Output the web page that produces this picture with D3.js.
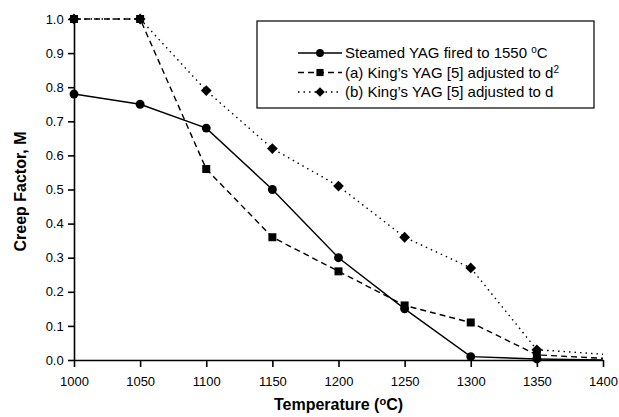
<!DOCTYPE html>
<html>
<head>
<meta charset="utf-8">
<title>Creep Factor</title>
<script src="https://d3js.org/d3.v7.min.js"></script>
<style>
  body { margin: 0; background: #fff; }
  text { font-family: "Liberation Sans", Arial, sans-serif; fill: #000; }
</style>
</head>
<body>
<script>
// data
var temps = [1000, 1050, 1100, 1150, 1200, 1250, 1300, 1350, 1400];
var steamed = [0.78, 0.75, 0.68, 0.50, 0.30, 0.15, 0.01, 0.003, 0.0];
var kingD2 = [1.0, 1.0, 0.56, 0.36, 0.26, 0.16, 0.11, 0.015, 0.005];
var kingD = [1.0, 1.0, 0.79, 0.62, 0.51, 0.36, 0.27, 0.03, 0.017];
var xTicks = [1000, 1050, 1100, 1150, 1200, 1250, 1300, 1350, 1400];
var yTicks = [0, 0.1, 0.2, 0.3, 0.4, 0.5, 0.6, 0.7, 0.8, 0.9, 1.0];

var w = 619, h = 417;
var m = {left: 74, right: 16, top: 19, bottom: 57};

var svg = d3.select("body").append("svg")
    .attr("width", w).attr("height", h);

var x = d3.scaleLinear().domain([1000, 1400]).range([m.left, w - m.right]);
var y = d3.scaleLinear().domain([0, 1]).range([h - m.bottom, m.top]);

// axes
var xAxis = svg.append("g")
    .attr("transform", "translate(0," + y(0) + ")")
    .call(d3.axisBottom(x).tickValues(xTicks).tickFormat(d3.format("d")).tickSize(7).tickSizeOuter(0));
var yAxis = svg.append("g")
    .attr("transform", "translate(" + x(1000) + ",0)")
    .call(d3.axisLeft(y).tickValues(yTicks).tickFormat(d3.format(".1f")).tickSize(6).tickSizeOuter(0));
[xAxis, yAxis].forEach(function(a) {
    a.selectAll("path, line").attr("stroke", "#000").attr("stroke-width", 1.6);
    a.selectAll("text").attr("font-size", 13).attr("fill", "#000");
});
xAxis.selectAll("text").attr("dy", "1.2em");
yAxis.selectAll("text").attr("dx", "-0.1em");

// axis titles
var xt = svg.append("text")
    .attr("x", (x(1000) + x(1400)) / 2).attr("y", 410)
    .attr("text-anchor", "middle")
    .attr("font-size", 16).attr("font-weight", "bold");
xt.append("tspan").text("Temperature (");
xt.append("tspan").attr("font-size", 11).attr("dy", -5).text("o");
xt.append("tspan").attr("dy", 5).text("C)");

svg.append("text")
    .attr("transform", "translate(26," + (y(0.5) + 2) + ") rotate(-90)")
    .attr("text-anchor", "middle")
    .attr("font-size", 16).attr("font-weight", "bold")
    .text("Creep Factor, M");

// diamond = square turned 45 degrees
var series = [
    {name: "steamed", vals: steamed, dash: null, shape: d3.symbolCircle, size: 62, rot: 0},
    {name: "d2", vals: kingD2, dash: "6,4", shape: d3.symbolSquare, size: 64, rot: 0},
    {name: "d", vals: kingD, dash: "1.5,4", shape: d3.symbolSquare, size: 58, rot: 45}
];

var line = d3.line()
    .x(function(d) { return x(d[0]); })
    .y(function(d) { return y(d[1]); });

function pointsOf(s) {
    return temps.map(function(t, i) { return [t, s.vals[i]]; });
}

series.forEach(function(s) {
    svg.append("path")
        .attr("d", line(pointsOf(s)))
        .attr("fill", "none")
        .attr("stroke", "#000")
        .attr("stroke-width", 1.4)
        .attr("stroke-dasharray", s.dash);
});

// markers: diamonds underneath, circles on top; none at 1400
series.slice().reverse().forEach(function(s) {
    var pts = pointsOf(s);
    svg.selectAll(null)
        .data(pts.slice(0, pts.length - 1))
        .enter().append("path")
        .attr("transform", function(d) {
            return "translate(" + x(d[0]) + "," + y(d[1]) + ") rotate(" + s.rot + ")";
        })
        .attr("d", d3.symbol().type(s.shape).size(s.size))
        .attr("fill", "#000");
});

// legend
var lg = svg.append("g").attr("transform", "translate(257,21)");
lg.append("rect")
    .attr("width", 337).attr("height", 87)
    .attr("fill", "#fff").attr("stroke", "#000").attr("stroke-width", 1.2);

var labels = [
    ["Steamed YAG fired to 1550 ", "o", "C"],
    ["(a) King\u2019s YAG [5] adjusted to d", "2", ""],
    ["(b) King\u2019s YAG [5] adjusted to d", "", ""]
];
series.forEach(function(s, i) {
    var ly = 32 + i * 19.5;
    lg.append("line")
        .attr("x1", 41).attr("x2", 85).attr("y1", ly).attr("y2", ly)
        .attr("stroke", "#000").attr("stroke-width", 1.4)
        .attr("stroke-dasharray", s.dash);
    lg.append("path")
        .attr("transform", "translate(63," + ly + ") rotate(" + s.rot + ")")
        .attr("d", d3.symbol().type(s.shape).size(s.size * 0.8))
        .attr("fill", "#000");
    var t = lg.append("text").attr("x", 88).attr("y", ly + 5).attr("font-size", 15);
    t.append("tspan").text(labels[i][0]);
    if (labels[i][1]) {
        t.append("tspan").attr("font-size", 10).attr("dy", -5).text(labels[i][1]);
        if (labels[i][2]) t.append("tspan").attr("dy", 5).text(labels[i][2]);
    }
});
</script>
</body>
</html>
